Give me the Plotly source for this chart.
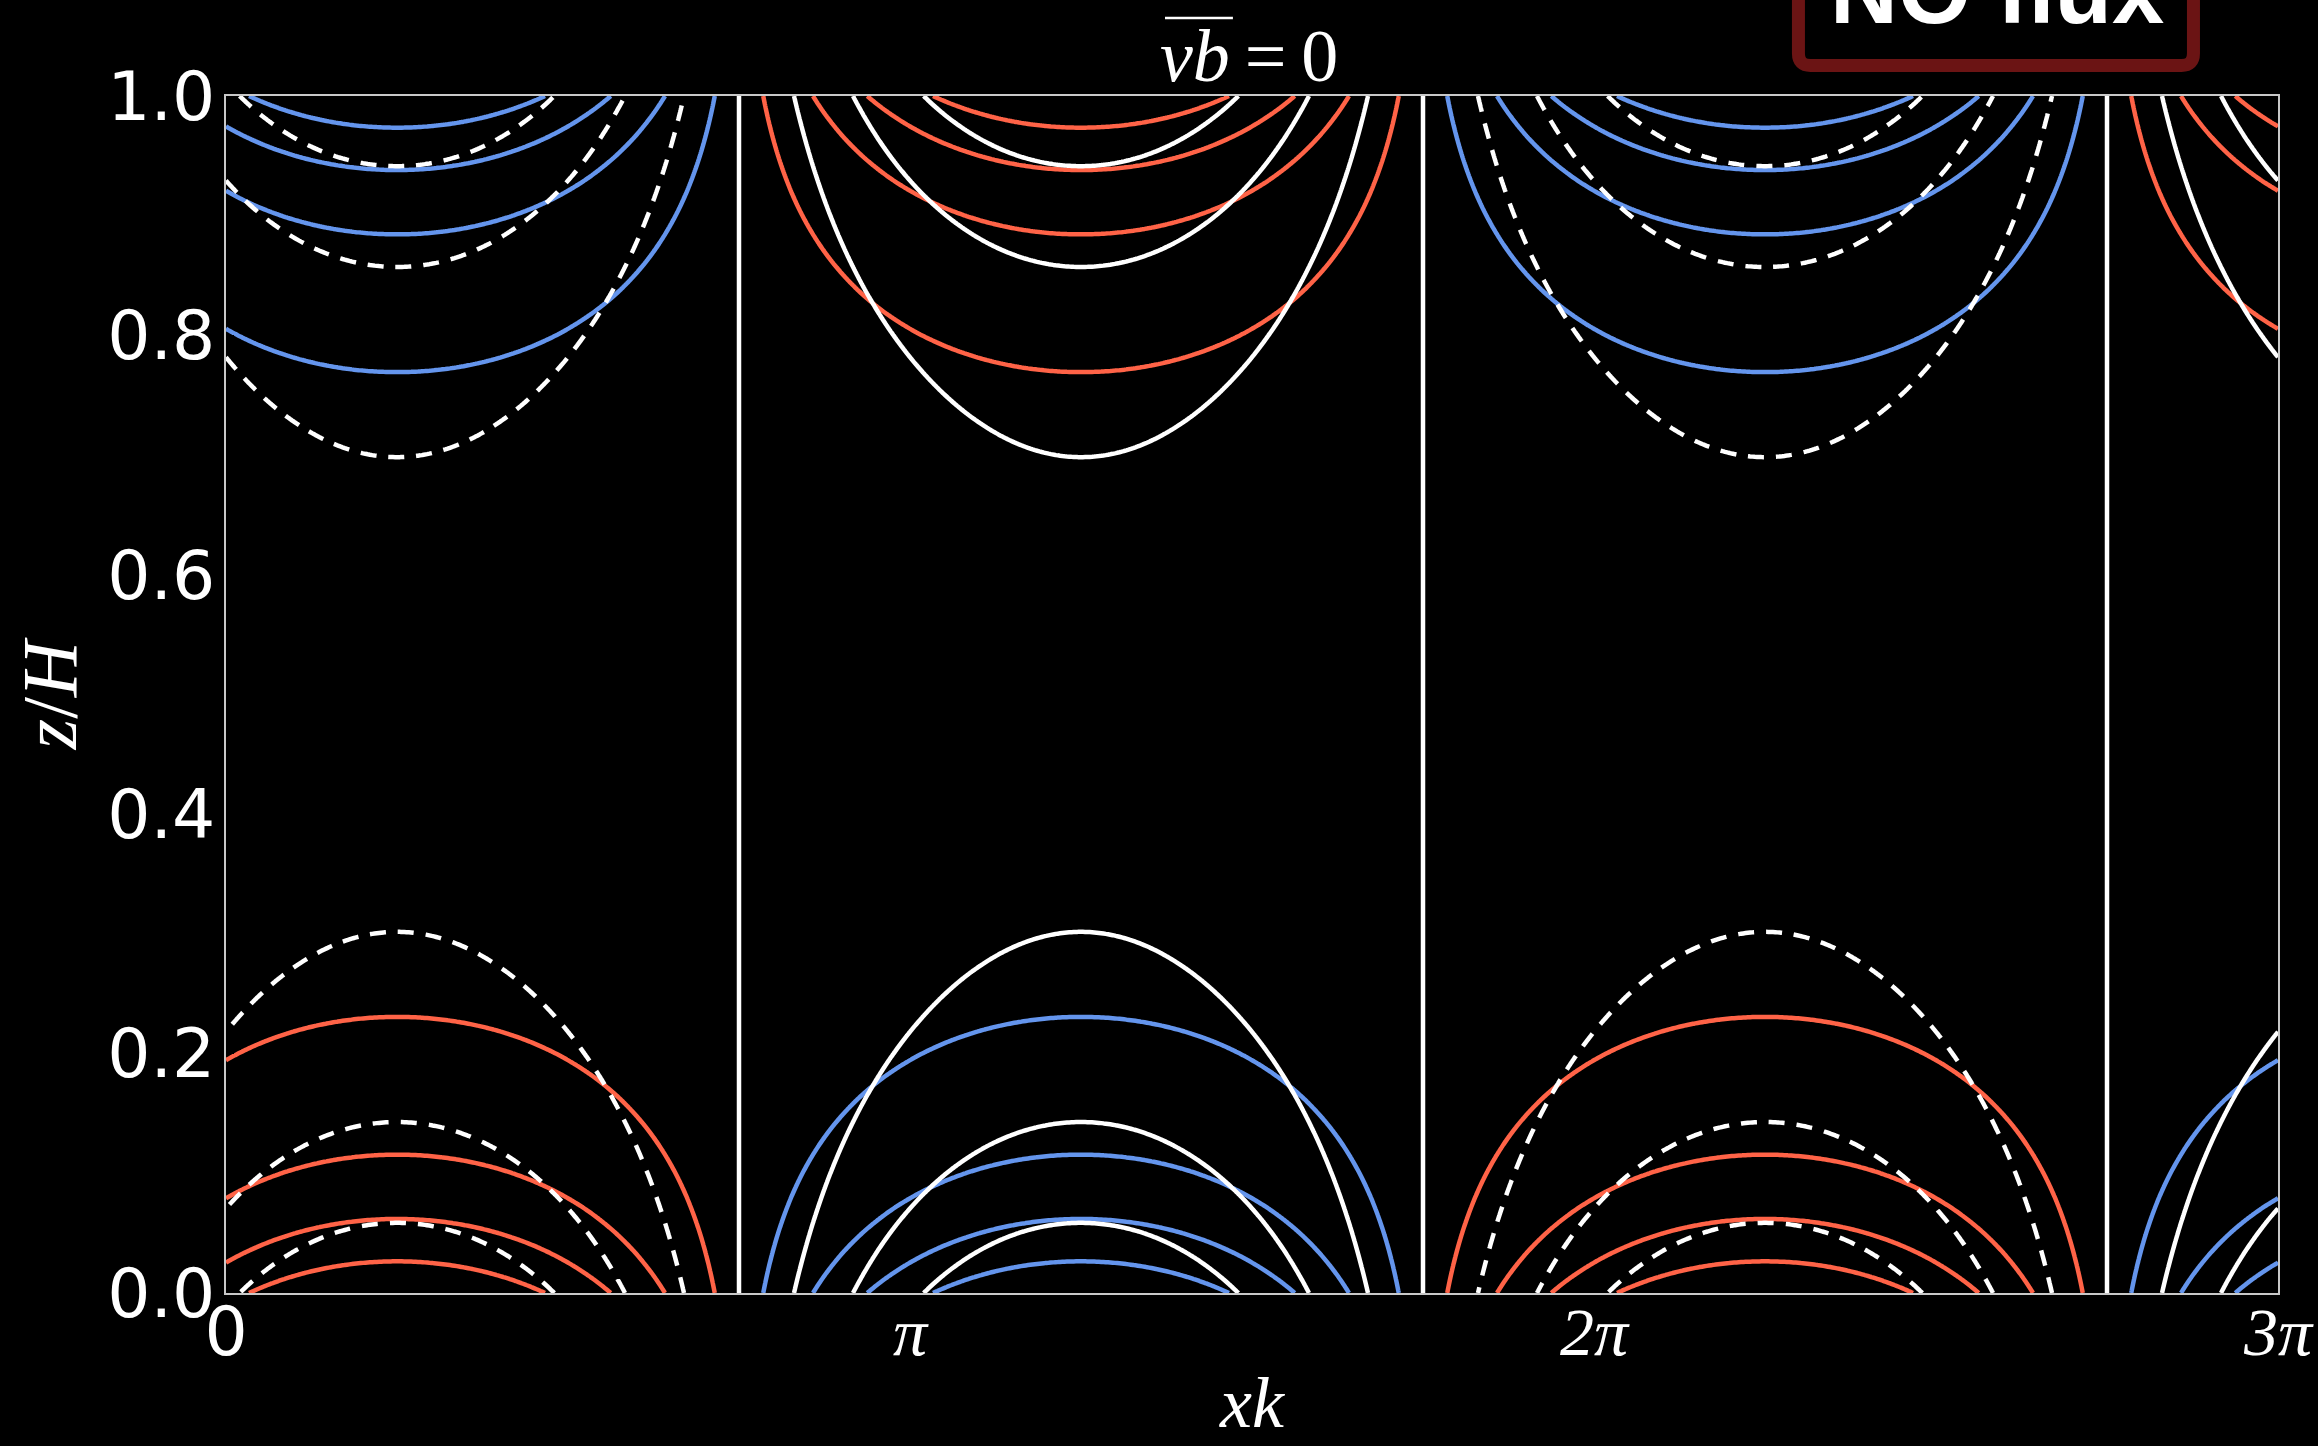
import numpy as np
import plotly.graph_objects as go

PI = np.pi

# Edge-wave fields: horizontal phase of the crest and vertical decay rates (1/H)
crest_phase = PI / 4
mu_b = 9.5
mu_v = 5.0

# Contour levels (normalised amplitudes)
b_levels_pos = [1 / 9, 3 / 9, 5 / 9, 7 / 9, 1.0]
b_levels_neg = [-1.0, -7 / 9, -5 / 9, -3 / 9, -1 / 9]
v_levels_pos = [0.0, 0.25, 0.5, 0.75, 1.0]
v_levels_neg = [-1.0, -0.75, -0.5, -0.25]

# Axis ticks
x_tick_vals = [0, PI, 2 * PI, 3 * PI]
x_tick_text = ["0", "π", "2π", "3π"]
y_tick_vals = [0.0, 0.2, 0.4, 0.6, 0.8, 1.0]
y_tick_text = ["0.0", "0.2", "0.4", "0.6", "0.8", "1.0"]

RED = "#ff6347"
BLUE = "#6495ed"
SERIF = "Liberation Serif"
LW = 4.5

# Grid over 0..3π in x and 0..1 in z/H
x = np.linspace(0, 3 * PI, 899)
z = np.linspace(0, 1, 601)
X, Z = np.meshgrid(x, z)
wave = np.cos(X - crest_phase)
b = np.sinh(mu_b * (0.5 - Z)) / np.sinh(mu_b / 2) * wave
v = -np.cosh(mu_v * (Z - 0.5)) / np.cosh(mu_v / 2) * wave


def contour(field, levels, color, dash):
    step = levels[1] - levels[0]
    return go.Contour(
        x=x, y=z, z=field,
        contours=dict(coloring="none", start=levels[0], end=levels[-1], size=step),
        line=dict(color=color, width=LW, dash=dash, smoothing=0),
        showscale=False, hoverinfo="skip",
    )


fig = go.Figure()
fig.add_trace(contour(b, b_levels_pos, RED, "solid"))
fig.add_trace(contour(b, b_levels_neg, BLUE, "solid"))
fig.add_trace(contour(v, v_levels_neg, "white", "16px,12px"))
fig.add_trace(contour(v, v_levels_pos, "white", "solid"))

serif_ticks = [t if t == "0" else f'<span style="font-family:{SERIF}"><i>{t}</i></span>'
               for t in x_tick_text]

axis_common = dict(
    showline=True, mirror=True, linecolor="#c8c8c8", linewidth=2,
    showgrid=False, zeroline=False, ticks="inside", tickcolor="black", ticklen=8,
    automargin=False,
    tickfont=dict(family="DejaVu Sans", size=68, color="white"),
)

fig.update_xaxes(range=[0, 3 * PI], tickvals=x_tick_vals, ticktext=serif_ticks,
                 ticklabelstandoff=-22, **axis_common)
fig.update_yaxes(range=[0, 1], tickvals=y_tick_vals, ticktext=y_tick_text,
                 ticklabelstandoff=-5, **axis_common)

THIN = "\u2009"
annotations = [
    # x-axis label
    dict(text="<i>xk</i>", x=0.5, y=-0.092, xref="paper", yref="paper",
         xanchor="center", yanchor="middle", showarrow=False,
         font=dict(family=SERIF, size=72, color="white")),
    # y-axis label
    dict(text="<i>z</i>/<i>H</i>", x=-0.0863, y=0.501, xref="paper", yref="paper",
         xanchor="center", yanchor="middle", textangle=-90, showarrow=False,
         font=dict(family=SERIF, size=78, color="white")),
    # title
    dict(text=f"<i>vb</i>{THIN}={THIN}0", x=0.4985, y=1.0332, xref="paper", yref="paper",
         xanchor="center", yanchor="middle", showarrow=False,
         font=dict(family=SERIF, size=74, color="white")),
    # boxed caption
    dict(text="<b>NO flux</b>", x=0.8633, y=1.0882, xref="paper", yref="paper",
         xanchor="center", yanchor="middle", showarrow=False,
         font=dict(family="Liberation Sans", size=94, color="white")),
]

# Rounded box round the caption
x0, x1, y0, y1 = 0.7663, 0.9588, 1.0255, 1.16
rx, ry = 12 / 2052, 12 / 1197
box_path = (f"M {x0},{y1} L {x0},{y0 + ry} Q {x0},{y0} {x0 + rx},{y0} "
            f"L {x1 - rx},{y0} Q {x1},{y0} {x1},{y0 + ry} L {x1},{y1}")

shapes = [
    dict(type="path", path=box_path, xref="paper", yref="paper",
         line=dict(color="#6b1414", width=13)),
    # bar over "vb"
    dict(type="line", x0=0.4576, x1=0.4907, y0=1.0652, y1=1.0652,
         xref="paper", yref="paper", line=dict(color="white", width=2.5)),
]

fig.update_layout(
    width=2318, height=1446,
    paper_bgcolor="black", plot_bgcolor="black",
    margin=dict(l=226, r=40, t=96, b=153),
    showlegend=False,
    annotations=annotations, shapes=shapes,
)

fig.write_html("out.html")
